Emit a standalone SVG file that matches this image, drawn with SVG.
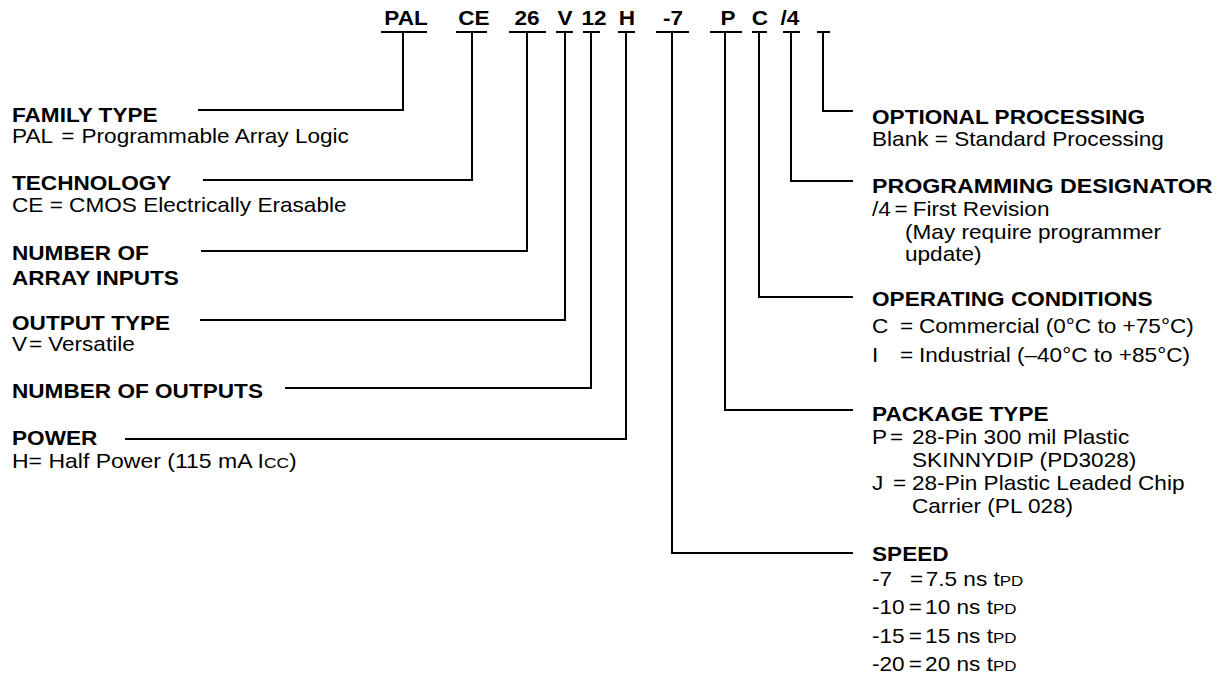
<svg xmlns="http://www.w3.org/2000/svg" width="1217" height="685" viewBox="0 0 1217 685">
<style>
.b { font-family: "Liberation Sans", Arial, Helvetica, sans-serif; font-weight: bold; font-size: 20px; fill: #000; }
.r { font-family: "Liberation Sans", Arial, Helvetica, sans-serif; font-size: 20px; fill: #000; }
.c { text-anchor: middle; }
.s { font-size: 15px; }
.ln { stroke: #000; stroke-width: 2; fill: none; }
</style>
<rect width="1217" height="685" fill="#fff"/>
<g id="code">
  <g id="code-pal"><text class="b c" transform="translate(406,25) scale(1.13,1)">PAL</text><line class="ln" x1="381" y1="32" x2="427" y2="32"/></g>
  <g id="code-ce"><text class="b c" transform="translate(474,25) scale(1.13,1)">CE</text><line class="ln" x1="456" y1="32" x2="487" y2="32"/></g>
  <g id="code-26"><text class="b c" transform="translate(527,25) scale(1.13,1)">26</text><line class="ln" x1="509" y1="32" x2="546" y2="32"/></g>
  <g id="code-v"><text class="b c" transform="translate(565,25) scale(1.13,1)">V</text><line class="ln" x1="556" y1="32" x2="573" y2="32"/></g>
  <g id="code-12"><text class="b c" transform="translate(594,25) scale(1.13,1)">12</text><line class="ln" x1="583" y1="32" x2="600" y2="32"/></g>
  <g id="code-h"><text class="b c" transform="translate(627,25) scale(1.13,1)">H</text><line class="ln" x1="618" y1="32" x2="635" y2="32"/></g>
  <g id="code-7"><text class="b c" transform="translate(673,25) scale(1.13,1)">-7</text><line class="ln" x1="656" y1="32" x2="689" y2="32"/></g>
  <g id="code-p"><text class="b c" transform="translate(728,25) scale(1.13,1)">P</text><line class="ln" x1="710" y1="32" x2="742" y2="32"/></g>
  <g id="code-c"><text class="b c" transform="translate(760,25) scale(1.13,1)">C</text><line class="ln" x1="752" y1="32" x2="767" y2="32"/></g>
  <g id="code-4"><text class="b c" transform="translate(790,25) scale(1.13,1)">/4</text><line class="ln" x1="783" y1="32" x2="800" y2="32"/></g>
  <g id="code-blank"><line class="ln" x1="817" y1="32" x2="830" y2="32"/></g>
</g>
<g id="connectors">
  <path class="ln" d="M403,32 V110 H198"/>
  <path class="ln" d="M472,32 V180 H203"/>
  <path class="ln" d="M527,32 V251 H201"/>
  <path class="ln" d="M565,32 V320 H200"/>
  <path class="ln" d="M591,32 V388 H285"/>
  <path class="ln" d="M626,32 V439 H125"/>
  <path class="ln" d="M672,32 V553 H853"/>
  <path class="ln" d="M725,32 V410 H853"/>
  <path class="ln" d="M759,32 V297 H853"/>
  <path class="ln" d="M791,32 V181 H853"/>
  <path class="ln" d="M823,32 V111 H853"/>
</g>
<g id="family-type">
  <text class="b" transform="translate(12,122) scale(1.13,1)">FAMILY TYPE</text>
  <text class="r" transform="translate(12,143) scale(1.13,1)"><tspan x="0">PAL</tspan><tspan x="43.5">=</tspan><tspan x="61.5">Programmable Array Logic</tspan></text>
</g>
<g id="technology">
  <text class="b" transform="translate(12,190) scale(1.13,1)">TECHNOLOGY</text>
  <text class="r" transform="translate(12,212) scale(1.13,1)">CE = CMOS Electrically Erasable</text>
</g>
<g id="array-inputs">
  <text class="b" transform="translate(12,260) scale(1.13,1)">NUMBER OF</text>
  <text class="b" transform="translate(12,285) scale(1.13,1)">ARRAY INPUTS</text>
</g>
<g id="output-type">
  <text class="b" transform="translate(12,330) scale(1.13,1)">OUTPUT TYPE</text>
  <text class="r" transform="translate(12,351) scale(1.13,1)"><tspan x="0">V</tspan><tspan x="15">=</tspan><tspan x="32">Versatile</tspan></text>
</g>
<g id="outputs">
  <text class="b" transform="translate(12,398) scale(1.13,1)">NUMBER OF OUTPUTS</text>
</g>
<g id="power">
  <text class="b" transform="translate(12,445) scale(1.13,1)">POWER</text>
  <text class="r" transform="translate(12,468) scale(1.15,1)">H= Half Power (115 mA I<tspan class="s">CC</tspan>)</text>
</g>
<g id="optional-processing">
  <text class="b" transform="translate(872,124) scale(1.13,1)">OPTIONAL PROCESSING</text>
  <text class="r" transform="translate(872,146) scale(1.13,1)">Blank = Standard Processing</text>
</g>
<g id="programming-designator">
  <text class="b" transform="translate(872,193) scale(1.16,1)">PROGRAMMING DESIGNATOR</text>
  <text class="r" transform="translate(872,216) scale(1.13,1)"><tspan x="0">/4</tspan><tspan x="20">=</tspan><tspan x="36">First Revision</tspan></text>
  <text class="r" transform="translate(905,239) scale(1.13,1)">(May require programmer</text>
  <text class="r" transform="translate(905,261) scale(1.13,1)">update)</text>
</g>
<g id="operating-conditions">
  <text class="b" transform="translate(872,306) scale(1.13,1)">OPERATING CONDITIONS</text>
  <text class="r" transform="translate(872,333) scale(1.13,1)"><tspan x="0">C</tspan><tspan x="24.8">=</tspan><tspan x="41.6">Commercial (0°C to +75°C)</tspan></text>
  <text class="r" transform="translate(872,362) scale(1.13,1)"><tspan x="0">I</tspan><tspan x="24.8">=</tspan><tspan x="41.6">Industrial (–40°C to +85°C)</tspan></text>
</g>
<g id="package-type">
  <text class="b" transform="translate(872,421) scale(1.13,1)">PACKAGE TYPE</text>
  <text class="r" transform="translate(872,444) scale(1.13,1)"><tspan x="0">P</tspan><tspan x="16">=</tspan><tspan x="35.4">28-Pin 300 mil Plastic</tspan></text>
  <text class="r" transform="translate(912,467) scale(1.13,1)">SKINNYDIP (PD3028)</text>
  <text class="r" transform="translate(872,490) scale(1.13,1)"><tspan x="0">J</tspan><tspan x="18.6">=</tspan><tspan x="35.4">28-Pin Plastic Leaded Chip</tspan></text>
  <text class="r" transform="translate(912,513) scale(1.13,1)">Carrier (PL 028)</text>
</g>
<g id="speed">
  <text class="b" transform="translate(872,561) scale(1.13,1)">SPEED</text>
  <text class="r" transform="translate(872,586) scale(1.13,1)"><tspan x="0">-7</tspan><tspan x="33.6">=</tspan><tspan x="47.5">7.5 ns t</tspan><tspan class="s">PD</tspan></text>
  <text class="r" transform="translate(872,614) scale(1.13,1)"><tspan x="0">-10</tspan><tspan x="32.5">=</tspan><tspan x="47">10 ns t</tspan><tspan class="s">PD</tspan></text>
  <text class="r" transform="translate(872,643) scale(1.13,1)"><tspan x="0">-15</tspan><tspan x="32.5">=</tspan><tspan x="47">15 ns t</tspan><tspan class="s">PD</tspan></text>
  <text class="r" transform="translate(872,671) scale(1.13,1)"><tspan x="0">-20</tspan><tspan x="32.5">=</tspan><tspan x="47">20 ns t</tspan><tspan class="s">PD</tspan></text>
</g>
</svg>
